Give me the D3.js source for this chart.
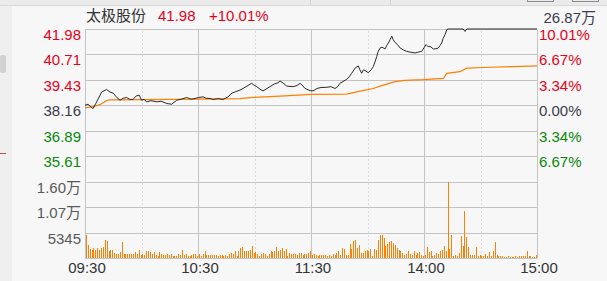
<!DOCTYPE html>
<html>
<head>
<meta charset="utf-8">
<script src="https://cdn.jsdelivr.net/npm/d3@7/dist/d3.min.js"></script>
<style>
  html, body { margin: 0; padding: 0; background: #f7f7f7; }
  svg { display: block; }
  text { font-family: "Liberation Sans", "Noto Sans CJK SC", sans-serif; }
  text.cjk { font-family: "Microsoft YaHei", "Noto Sans CJK SC", sans-serif; }
</style>
</head>
<body>
<svg id="chart" width="607" height="281"></svg>
<script>
// ---------------- data ----------------
const stockName = "太极股份";
const lastPrice = "41.98";
const lastChange = "+10.01%";
const totalVolume = "26.87万";

const basePrice = 38.16;
const priceTicks = [41.98, 40.71, 39.43, 38.16, 36.89, 35.61];
const priceTickLabels = ["41.98", "40.71", "39.43", "38.16", "36.89", "35.61"];
const pctTickLabels = ["10.01%", "6.67%", "3.34%", "0.00%", "3.34%", "6.67%"];
const priceDomain = [34.34, 41.98];

const volumeTicks = [5345, 10690, 16035];
const volumeTickLabels = ["5345", "1.07万", "1.60万"];
const volumeMax = 16035;

const timeTicks = [0, 60, 120, 180, 240];
const timeTickLabels = ["09:30", "10:30", "11:30", "14:00", "15:00"];
const halfHourTicks = [30, 90, 150, 210];

// minutes since 09:30 (trading minutes) and price
const priceMinutes = [0,1.6,2.7,4.2,5.8,8.9,11.5,13.3,14.9,17,
18.6,20.2,22.1,23.9,25.5,27.1,28.7,30.1,31.3,32.8,
35,38.1,40.4,43.4,46,48.7,51,54,56.3,58.4,
60.5,62.7,64.3,66.4,68,70.6,73.3,75.9,78,79.7,
82.3,83.9,86,88.5,89.7,91.2,92.9,94.5,96.1,98.2,
100.4,102.5,103.6,105.2,107.1,110.5,112.6,114.2,115.8,116.8,
118.4,119.5,121.1,123.1,125.3,128.4,130.6,132.8,134.4,135.4,
137,139,140.2,141.6,142.8,143.4,145.1,146,146.9,147.8,
148.7,150.4,151.9,153.1,154,154.9,155.6,156.7,157.7,159.3,
160.2,161.1,162,162.9,163.6,164.6,165.9,167.3,168.9,170.8,
172.6,175.3,176.8,178.8,180,181.1,182.2,183.2,185,186.4,
187.6,188.5,189.4,190.1,191.2,192.1,192.8,200.7,201.8,202.7,
240];
const prices = [38.16,38.21,38.11,37.99,38.26,38.83,38.95,38.82,38.77,38.54,
38.41,38.51,38.55,38.45,38.45,38.62,38.67,38.41,38.46,38.33,
38.39,38.33,38.36,38.25,38.21,38.41,38.46,38.55,38.46,38.50,
38.55,38.58,38.51,38.50,38.45,38.49,38.45,38.58,38.77,38.83,
38.92,39.00,39.12,39.26,39.17,39.09,38.97,38.88,38.97,39.09,
39.22,39.29,39.37,39.27,39.12,39.09,39.15,39.26,39.12,39.00,
38.94,38.89,38.88,39.00,39.05,39.06,39.09,39.00,39.12,39.26,
39.35,39.46,39.58,39.76,39.93,40.02,40.13,39.93,39.76,39.93,
39.90,39.79,39.93,40.10,40.34,40.60,40.84,41.03,41.07,40.98,
41.15,41.28,41.45,41.62,41.45,41.31,41.20,41.03,40.94,40.86,
40.82,40.78,40.82,40.86,41.04,41.20,41.09,41.11,40.98,40.99,
41.03,41.15,41.28,41.50,41.70,41.95,41.98,41.98,41.86,41.98,
41.98];

const avgMinutes = [0,5.3,8,10.1,11.5,13.3,48.7,82.3,89.2,103.6,
120.4,139,144.3,148.7,153.1,156.7,160.2,164.6,169.9,179.7,
190.3,192.1,199.1,202.7,211.5,227.5,240];
const avgPrices = [38.03,38.11,38.19,38.31,38.40,38.43,38.45,38.49,38.55,38.62,
38.70,38.72,38.83,38.92,39.00,39.12,39.22,39.34,39.41,39.44,
39.51,39.76,39.84,40.02,40.05,40.10,40.13];

// per-minute volume (shares), 240 minutes
const volumes = [
4920,2810,1960,1690,2110,1750,2110,1750,2110,2320,
3730,3650,1540,1620,1750,1060,910,910,1200,3310,
910,910,910,910,780,910,1270,910,1750,700,
910,630,1410,1480,1270,910,1330,700,490,1200,
780,700,700,910,630,840,360,360,490,840,
630,1750,630,840,360,490,630,780,740,420,
840,320,840,1410,700,700,700,700,700,700,
490,700,700,490,700,490,910,1060,910,1410,
490,1410,2110,2260,1410,1410,1410,1620,2600,1060,
1270,910,490,910,1060,910,490,840,1410,1200,
1540,2320,1410,1750,2110,1410,1960,490,1060,840,
910,910,700,1060,1060,700,910,840,1060,1540,
700,910,700,490,700,700,700,700,490,700,
490,840,700,1060,1410,700,2110,1900,700,700,
3020,1960,3520,3860,2110,2810,1060,1060,1410,1750,
1540,1960,490,1960,1750,3730,4920,4920,4220,2470,
3020,3310,3650,3170,2810,2110,1750,1410,
1060,700,910,1410,910,700,1410,700,1060,1200,
700,490,700,2260,1200,1410,490,700,1060,910,
1410,1750,2470,1410,16000,1960,4920,490,700,490,
1060,4710,2600,9980,4370,2320,700,700,700,2320,
490,700,490,490,910,490,1200,490,1410,3310,
700,490,490,360,270,270,360,270,270,270,
360,270,360,490,490,360,1540,490,360,210,
210,630
];

// ---------------- drawing ----------------
(function () {
const svg = d3.select("#chart");
const W = 607, H = 281;
const plotLeft = 85, plotRight = 537, plotTop = 29, priceBottom = 181.5, volTop = 182, volBottom = 258;

const red = "#e8001a", green = "#0a870a", neutral = "#3c3c4c";
const gridColor = "#c4c4c4";

// window chrome
svg.append("rect").attr("x", 0).attr("y", 0).attr("width", W).attr("height", H).attr("fill", "#f7f7f7");
svg.append("rect").attr("x", 0).attr("y", 0).attr("width", W).attr("height", 5).attr("fill", "#ebebeb");
svg.append("line").attr("x1", 0).attr("x2", W).attr("y1", 5.5).attr("y2", 5.5).attr("stroke", "#d9d9d9");
[310.5, 390.5].forEach(v => svg.append("line").attr("x1", v).attr("x2", v).attr("y1", 0).attr("y2", 5).attr("stroke", "#d0d0d0"));
[[527, 26], [572, 26]].forEach(([bx, bw]) => svg.append("rect").attr("x", bx + 0.5).attr("y", -3).attr("width", bw).attr("height", 4.5).attr("fill", "none").attr("stroke", "#8a8a8a"));
svg.append("rect").attr("x", 0).attr("y", 6).attr("width", 12).attr("height", H - 6).attr("fill", "#efefef");
svg.append("rect").attr("x", 0).attr("y", 55).attr("width", 6).attr("height", 18).attr("rx", 2).attr("fill", "#d2d2d2");
svg.append("line").attr("x1", 0).attr("x2", 6).attr("y1", 153.5).attr("y2", 153.5).attr("stroke", "#c0504d");

// scales
const x = d3.scaleLinear().domain([0, 240]).range([plotLeft, plotRight]);
const yP = d3.scaleLinear().domain(priceDomain).range([priceBottom, plotTop]);
const yV = d3.scaleLinear().domain([0, volumeMax]).range([volBottom, volTop]);
const crisp = v => Math.round(v) + 0.5;

const grid = svg.append("g");
priceTicks.forEach(p => {
  const yy = crisp(yP(p));
  grid.append("line").attr("x1", plotLeft).attr("x2", plotRight).attr("y1", yy).attr("y2", yy).attr("stroke", gridColor);
});
volumeTicks.concat([0]).forEach(v => {
  const yy = crisp(yV(v));
  grid.append("line").attr("x1", plotLeft).attr("x2", plotRight).attr("y1", yy).attr("y2", yy).attr("stroke", gridColor);
});
timeTicks.forEach(t => {
  const xx = crisp(x(t));
  grid.append("line").attr("x1", xx).attr("x2", xx).attr("y1", crisp(yP(priceTicks[0]))).attr("y2", crisp(yV(0))).attr("stroke", gridColor);
});
halfHourTicks.forEach(t => {
  const xx = crisp(x(t));
  grid.append("line").attr("x1", xx).attr("x2", xx).attr("y1", crisp(yP(priceTicks[0])) + 2).attr("y2", crisp(yV(0)))
    .attr("stroke", "#bdbdbd").attr("stroke-dasharray", "1,3");
});

// volume bars
svg.append("g").selectAll("rect").data(volumes).join("rect")
  .attr("x", (d, i) => Math.round(x(i + 0.5)))
  .attr("width", 1)
  .attr("y", d => Math.round(yV(d)))
  .attr("height", d => Math.max(0, Math.round(yV(0)) - Math.round(yV(d))))
  .attr("fill", "#ff8000");

// average line
svg.append("path").datum(d3.zip(avgMinutes, avgPrices))
  .attr("d", d3.line().x(d => x(d[0])).y(d => yP(d[1])))
  .attr("fill", "none").attr("stroke", "#ff7f00").attr("stroke-width", 1.2);

// price line
svg.append("path").datum(d3.zip(priceMinutes, prices))
  .attr("d", d3.line().x(d => x(d[0])).y(d => yP(d[1])))
  .attr("fill", "none").attr("stroke", "#2a2a2a").attr("stroke-width", 1);

// price & percent labels
const colorFor = p => p > basePrice + 0.001 ? red : (p < basePrice - 0.001 ? green : neutral);
priceTicks.forEach((p, i) => {
  svg.append("text").attr("x", 81).attr("y", Math.round(yP(p)) + 11)
    .attr("text-anchor", "end").attr("font-size", 15).attr("fill", colorFor(p)).text(priceTickLabels[i]);
  svg.append("text").attr("x", 539).attr("y", Math.round(yP(p)) + 10.5)
    .attr("text-anchor", "start").attr("font-size", 15).attr("fill", colorFor(p)).text(pctTickLabels[i]);
});

// volume labels
volumeTicks.forEach((v, i) => {
  svg.append("text").attr("x", 81).attr("y", Math.round(yV(v)) + 11)
    .attr("text-anchor", "end").attr("font-size", 15).attr("fill", "#5a5a5a").text(volumeTickLabels[i]);
});

// time axis
const xAxis = d3.axisBottom(x).tickValues(timeTicks).tickFormat((d, i) => timeTickLabels[i]).tickSize(0).tickPadding(0);
const gx = svg.append("g").attr("transform", `translate(1.5,${volBottom})`).call(xAxis);
gx.select(".domain").remove();
gx.attr("font-family", null).attr("font-size", 15);
gx.selectAll("text").attr("font-size", 15).attr("fill", "#333").attr("dy", null).attr("y", 15);

// header
svg.append("text").attr("class", "cjk").attr("x", 86).attr("y", 21).attr("font-size", 15).attr("fill", "#333").text(stockName);
svg.append("text").attr("x", 158).attr("y", 21).attr("font-size", 15).attr("fill", red).text(lastPrice);
svg.append("text").attr("x", 209).attr("y", 21).attr("font-size", 15).attr("fill", red).text(lastChange);
svg.append("text").attr("x", 596).attr("y", 22.5).attr("text-anchor", "end").attr("font-size", 15).attr("fill", "#3c3c4c").text(totalVolume);
})();
</script>
</body>
</html>
